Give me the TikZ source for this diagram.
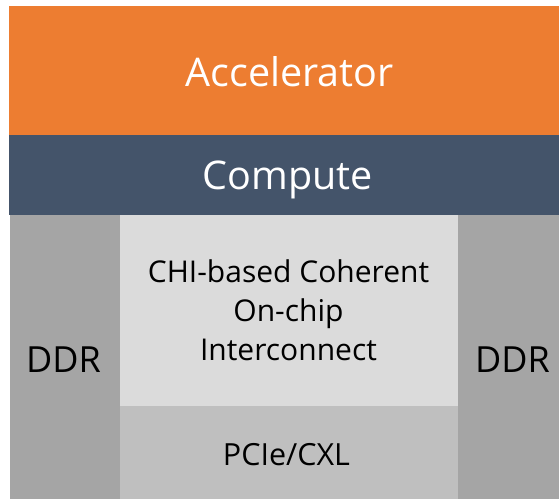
\documentclass[tikz,border=0pt]{standalone}
\usepackage{fontspec}
\setmainfont{Open Sans}
\definecolor{accorange}{HTML}{ED7D31}
\definecolor{compblue}{HTML}{44546A}
\definecolor{ddrgray}{HTML}{A5A5A5}
\definecolor{icgray}{HTML}{DBDBDB}
\definecolor{pcigray}{HTML}{BFBFBF}
\begin{document}
\begin{tikzpicture}[x=1pt,y=-1pt,
  lbl/.style={inner sep=0pt,anchor=base,align=center}]
\useasboundingbox (0,0) rectangle (559,499);
\fill[white] (0,0) rectangle (559,499);
\fill[accorange] (9,6) rectangle (559,135);
\fill[compblue] (9,135) rectangle (559,215);
\fill[ddrgray] (10,215) rectangle (120,499);
\fill[icgray] (120,215) rectangle (458,406);
\fill[pcigray] (120,406) rectangle (458,499);
\fill[ddrgray] (458,215) rectangle (559,499);
\node[lbl,text=white,font=\fontsize{39.5}{46}\selectfont] (acc) at (289.5,86) {Accelerator};
\node[lbl,text=white,font=\fontsize{39.5}{46}\selectfont] (comp) at (288,189) {Compute};
\node[lbl,font=\fontsize{30}{39}\selectfont] (ic1) at (288.5,282) {CHI-based Coherent};
\node[lbl,font=\fontsize{30}{39}\selectfont] (ic2) at (288.5,321) {On-chip};
\node[lbl,font=\fontsize{30}{39}\selectfont] (ic3) at (288.5,360) {Interconnect};
\node[lbl,font=\fontsize{36}{42}\selectfont] (ddrl) at (63.5,372) {DDR};
\node[lbl,font=\fontsize{36}{42}\selectfont] (ddrr) at (512.5,372) {DDR};
\node[lbl,font=\fontsize{30.5}{36}\selectfont] (pcie) at (286.5,465) {PCIe/CXL};
\end{tikzpicture}
\end{document}
